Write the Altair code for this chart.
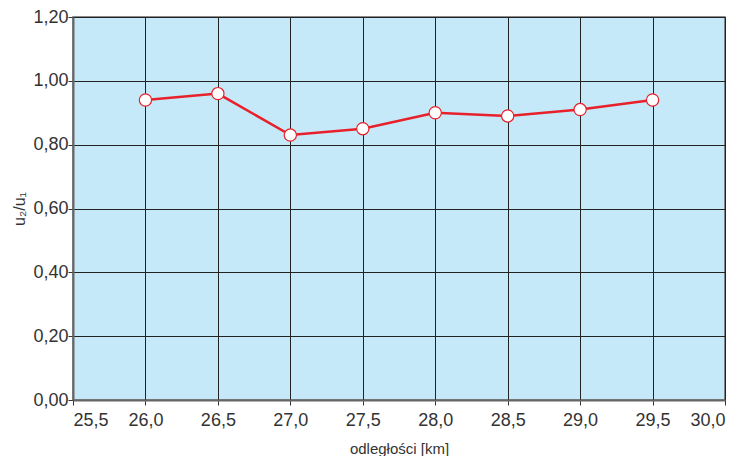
import altair as alt
import pandas as pd

distance = [26.0, 26.5, 27.0, 27.5, 28.0, 28.5, 29.0, 29.5]
ratio = [0.94, 0.96, 0.83, 0.85, 0.90, 0.89, 0.91, 0.94]
x_ticks = [25.5, 26.0, 26.5, 27.0, 27.5, 28.0, 28.5, 29.0, 29.5, 30.0]
y_ticks = [0.0, 0.2, 0.4, 0.6, 0.8, 1.0, 1.2]

df = pd.DataFrame({"d": distance, "r": ratio})

x = alt.X("d:Q", scale=alt.Scale(domain=[25.5, 30.0], nice=False, zero=False),
          axis=alt.Axis(values=x_ticks, title="odległości [km]",
                        labelExpr="replace(format(datum.value,'.1f'),'.',',')",
                        titleFontSize=15, titleFontWeight="normal", titlePadding=12,
                        titleColor="#333333", labelPadding=6))
y = alt.Y("r:Q", scale=alt.Scale(domain=[0, 1.2], nice=False),
          axis=alt.Axis(values=y_ticks, title="u₂/u₁",
                        labelExpr="replace(format(datum.value,'.2f'),'.',',')",
                        titleFontSize=16, titleFontWeight="normal", titlePadding=5,
                        titleColor="#333333", labelPadding=0))

line = alt.Chart(df).mark_line(color="#e8202a", strokeWidth=2.5).encode(x=x, y=y)
pts = alt.Chart(df).mark_point(filled=True, fill="white", stroke="#e8202a",
                               strokeWidth=1.2, size=150, opacity=1).encode(x=x, y=y)

chart = (line + pts).properties(
    width=652, height=383,
    autosize=alt.AutoSizeParams(type="none"),
    padding={"left": 65, "top": 9, "right": 16, "bottom": 56},
).configure_view(fill="#c6e9f9", stroke="#666666", strokeWidth=1.5
).configure_axis(
    grid=True, gridColor="#222222", gridOpacity=1, gridWidth=1,
    domainColor="#666666", domainWidth=2,
    tickColor="#333333", tickSize=5, tickWidth=1,
    labelFont="Liberation Sans", titleFont="Liberation Sans",
    labelFontSize=18, labelColor="#333333",
)

chart.save("out.html", embed_options={"renderer": "svg", "actions": False})
